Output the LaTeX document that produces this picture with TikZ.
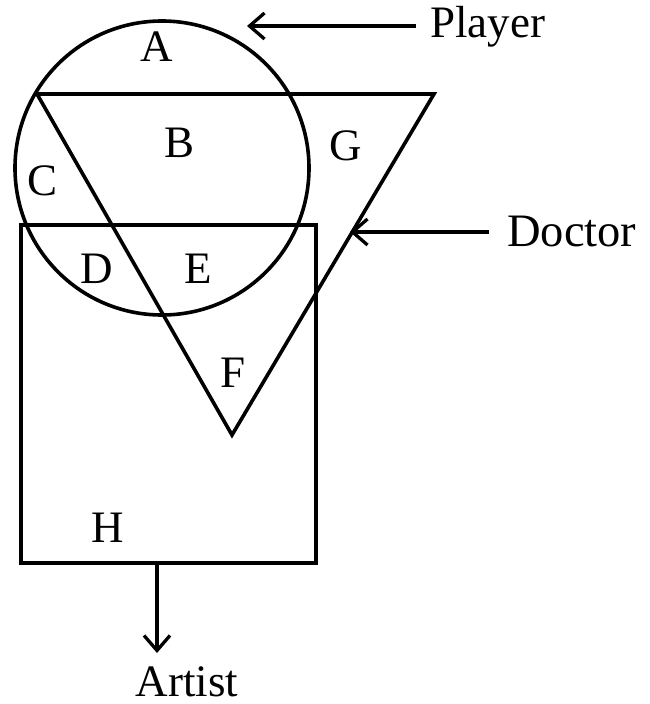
\documentclass[tikz,border=0pt]{standalone}
\usepackage{fontspec}
\setmainfont{Liberation Serif}
\usetikzlibrary{arrows.meta}
\begin{document}
\begin{tikzpicture}[x=1pt,y=-1pt,
  shape line/.style={line width=3.6pt, line join=miter},
  pointer/.style={line width=3.3pt, -{Straight Barb[length=15pt,width=26pt,line width=3.3pt]}},
  lbl/.style={anchor=base, inner sep=0pt, font=\fontsize{45}{54}\selectfont}]
\useasboundingbox (0,0) rectangle (649,704);
% shapes
\node[draw, shape line, circle, minimum size=294pt, inner sep=0pt] (player) at (162,168) {};
\coordinate (t1) at (37,94);
\coordinate (t2) at (434,94);
\coordinate (t3) at (232,435);
\draw[shape line] (t1) -- (t2) -- (t3) -- cycle;
\coordinate (r1) at (21,225);
\coordinate (r2) at (316,563);
\draw[shape line] (r1) rectangle (r2);
% region labels
\node[lbl] (A) at (157,61) {A};
\node[lbl] (B) at (180,157) {B};
\node[lbl] (C) at (43,195) {C};
\node[lbl] (D) at (97,283) {D};
\node[lbl] (E) at (198,283) {E};
\node[lbl] (F) at (233,387) {F};
\node[lbl] (G) at (346,160) {G};
\node[lbl] (H) at (108,542) {H};
% set names
\node[lbl, anchor=base west] (pl) at (430,37) {Player};
\node[lbl, anchor=base west, font=\fontsize{46.5}{54}\selectfont] (dc) at (507,246) {Doctor};
\node[lbl] (ar) at (187,696) {Artist};
% pointers
\coordinate (ps) at (416,26);
\coordinate (pt) at (247,26);
\draw[pointer] (ps) -- (pt);
\coordinate (ds) at (489,232);
\coordinate (dt) at (350,232);
\draw[pointer] (ds) -- (dt);
\coordinate (as) at (157,563);
\coordinate (at2) at (157,653);
\draw[pointer] (as) -- (at2);
\end{tikzpicture}
\end{document}
